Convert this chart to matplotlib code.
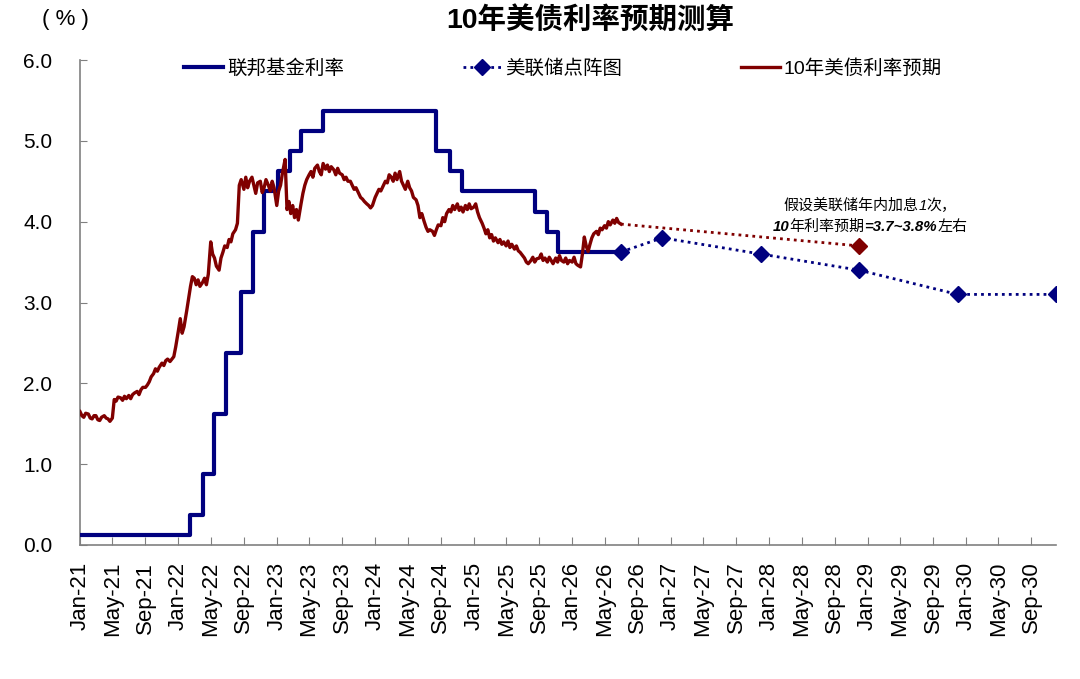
import matplotlib
matplotlib.use("Agg")
import matplotlib.pyplot as plt
import matplotlib.dates as mdates
import pandas as pd
from matplotlib.offsetbox import TextArea, HPacker, VPacker, AnchoredOffsetbox

plt.rcParams['font.family'] = ['Liberation Sans', 'Noto Sans CJK SC', 'DejaVu Sans']

# ---------------- data ----------------
# Fed funds target midpoint (step series, as drawn)
ff_dates = ["2021-01-01", "2022-02-14", "2022-04-04", "2022-05-15", "2022-06-25",
            "2022-08-23", "2022-10-03", "2022-11-14", "2023-01-05", "2023-02-18",
            "2023-04-02", "2023-06-21", "2024-08-15", "2024-10-03", "2024-11-18",
            "2025-08-15", "2025-09-28", "2025-11-10", "2026-07-01"]
ff_values = [0.125, 0.375, 0.875, 1.625, 2.375, 3.125, 3.875, 4.375, 4.625, 4.875,
             5.125, 5.375, 4.875, 4.625, 4.375, 4.125, 3.875, 3.625, 3.625]

# Fed dot plot
dot_dates = ["2026-07-01", "2026-12-01", "2027-12-01", "2028-12-01", "2029-12-01", "2030-12-01"]
dot_values = [3.625, 3.80, 3.60, 3.40, 3.10, 3.10]

# 10Y Treasury yield, weekly-ish readings (days 1, 8, 15, 22 of each month), Jan-21 .. Jun-26
y10_values = [
    # 2021
    1.65, 1.60, 1.58, 1.63,  1.62, 1.57, 1.56, 1.60,  1.60, 1.55, 1.54, 1.58,
    1.60, 1.57, 1.56, 1.53,  1.57, 1.80, 1.78, 1.83,  1.82, 1.79, 1.84, 1.81,
    1.85, 1.81, 1.86, 1.88,  1.90, 1.86, 1.92, 1.95,  1.95, 1.98, 2.02, 2.08,
    2.12, 2.18, 2.15, 2.20,  2.25, 2.22, 2.28, 2.30,  2.27, 2.30, 2.33, 2.45,
    # 2022
    2.65, 2.80, 2.62, 2.70,  2.90, 3.05, 3.20, 3.32,  3.30, 3.22, 3.28, 3.20,
    3.25, 3.30, 3.22, 3.35,  3.75, 3.60, 3.55, 3.45,  3.40, 3.55, 3.62, 3.70,
    3.68, 3.78, 3.75, 3.85,  3.90, 3.98, 4.45, 4.52,  4.40, 4.55, 4.42, 4.50,
    4.55, 4.45, 4.35, 4.48,  4.50, 4.36, 4.42, 4.52,  4.45, 4.38, 4.50, 4.42,
    # 2023
    4.20, 4.38, 4.45, 4.60,  4.77, 4.15, 4.25, 4.10,  4.20, 4.05, 4.15, 4.02,
    4.22, 4.35, 4.45, 4.52,  4.58, 4.62, 4.55, 4.66,  4.70, 4.62, 4.58, 4.72,
    4.65, 4.70, 4.62, 4.68,  4.64, 4.58, 4.66, 4.60,  4.58, 4.52, 4.55, 4.50,
    4.50, 4.45, 4.40, 4.42,  4.35, 4.30, 4.28, 4.25,  4.22, 4.20, 4.17, 4.20,
    # 2024
    4.30, 4.35, 4.40, 4.38,  4.45, 4.50, 4.48, 4.58,  4.55, 4.50, 4.60, 4.52,
    4.62, 4.50, 4.45, 4.40,  4.50, 4.42, 4.38, 4.30,  4.27, 4.20, 4.05, 4.10,
    4.00, 3.93, 3.88, 3.90,  3.88, 3.83, 3.90, 3.96,  3.95, 4.05, 4.00, 4.10,
    4.15, 4.12, 4.20, 4.15,  4.22, 4.14, 4.18, 4.12,  4.20, 4.15, 4.22, 4.16,
    # 2025
    4.18, 4.22, 4.12, 4.05,  3.98, 3.92, 3.85, 3.90,  3.80, 3.84, 3.76, 3.80,
    3.74, 3.78, 3.72, 3.75,  3.70, 3.76, 3.68, 3.72,  3.66, 3.70, 3.64, 3.62,
    3.58, 3.55, 3.50, 3.48,  3.52, 3.56, 3.50, 3.54,  3.55, 3.60, 3.52, 3.55,
    3.50, 3.56, 3.52, 3.48,  3.55, 3.50, 3.58, 3.52,  3.50, 3.55, 3.48, 3.52,
    # 2026
    3.50, 3.56, 3.48, 3.46,  3.44, 3.60, 3.81, 3.70,  3.63, 3.72, 3.80, 3.85,
    3.88, 3.84, 3.92, 3.90,  3.95, 3.92, 4.00, 3.96,  4.02, 3.98, 4.04, 3.99,
    3.97]
y10_days = [1, 8, 15, 22]
y10_first_month = "2021-01"
y10_last_date = "2026-07-01"

# 10Y projection
proj_dates = ["2026-07-01", "2028-12-01"]
proj_values = [3.97, 3.70]

x_start, x_end = "2021-01-01", "2030-12-01"
y_ticks = [0.0, 1.0, 2.0, 3.0, 4.0, 5.0, 6.0]

# ---------------- plot ----------------
navy = "#00007F"
dred = "#800000"

fig = plt.figure(figsize=(10.8, 6.79), dpi=100)
ax = fig.add_axes([80/1080, 1-545/679, (1056-80)/1080, (545-60)/679])

months = pd.period_range(y10_first_month, periods=(len(y10_values) - 1) // 4, freq="M")
y10_dates = [pd.Timestamp(m.year, m.month, d) for m in months for d in y10_days] + [pd.Timestamp(y10_last_date)]

ln1, = ax.plot(pd.to_datetime(ff_dates), ff_values, drawstyle="steps-post",
               color=navy, lw=3.0, label="联邦基金利率", zorder=3)
ln2, = ax.plot(pd.to_datetime(dot_dates), dot_values, color=navy, lw=2.0,
               ls=(0, (1, 1.5)), marker="D", markersize=8, markerfacecolor=navy,
               markeredgecolor=navy, label="美联储点阵图", zorder=4)
ln3, = ax.plot(y10_dates, y10_values, color=dred, lw=2.4, label="10年美债利率预期", zorder=5)
ax.plot(pd.to_datetime(proj_dates), proj_values, color=dred, lw=2.0, ls=(0, (1, 1.5)), zorder=4)
ax.plot(pd.to_datetime(proj_dates[-1:]), proj_values[-1:], marker="D", markersize=8,
        color=dred, ls="none", zorder=5)

ax.set_xlim(pd.Timestamp(x_start), pd.Timestamp(x_end))
ax.set_ylim(0, 6)
ax.set_yticks(y_ticks)
ax.set_yticklabels([f"{v:.1f}" for v in y_ticks])
ax.xaxis.set_major_locator(mdates.MonthLocator(bymonth=[1, 5, 9]))
ax.xaxis.set_major_formatter(mdates.DateFormatter("%b-%y"))
ax.tick_params(axis="x", direction="in", length=6, color="#808080", pad=12, labelsize=16, labelrotation=90)
ax.tick_params(axis="y", direction="in", length=5, color="#808080", pad=20, labelsize=15)
for s in ["top", "right"]:
    ax.spines[s].set_visible(False)
for s in ["left", "bottom"]:
    ax.spines[s].set_color("#808080")
    ax.spines[s].set_linewidth(1.2)

leg = ax.legend(handles=[ln1, ln2, ln3], loc="upper left", bbox_to_anchor=(0.089, 1.038),
                ncol=3, frameon=False, fontsize=14, handlelength=2.0, handletextpad=0.2,
                columnspacing=6.1)

fig.text(590/1080, 1-20/679, "10年美债利率预期测算", ha="center", va="center",
         fontsize=20.5, fontweight="bold")
fig.text(65/1080, 1-20/679, "( % )", ha="center", va="center", fontsize=16)

fs = 10.8
cjk = ["Liberation Sans", "Noto Sans CJK SC"]
def ta(s, **kw):
    props = dict(fontsize=fs, family=cjk, color="black")
    props.update(kw)
    return TextArea(s, textprops=props)

line1 = HPacker(children=[ta("假设美联储年内加息"), ta("1", style="italic"), ta("次，")],
                align="baseline", pad=0, sep=0)
line2 = HPacker(children=[ta("10", style="italic", weight="bold"), ta("年利率预期"),
                          ta("=3.7~3.8%", style="italic", weight="bold"), ta("左右")],
                align="baseline", pad=0, sep=0)
box = VPacker(children=[line1, line2], align="center", pad=0, sep=5)
ab = AnchoredOffsetbox(loc="center", child=box, frameon=False,
                       bbox_to_anchor=(870/1080, 1-216/679), bbox_transform=fig.transFigure,
                       pad=0, borderpad=0)
fig.add_artist(ab)

fig.savefig("out.png", dpi=100)
